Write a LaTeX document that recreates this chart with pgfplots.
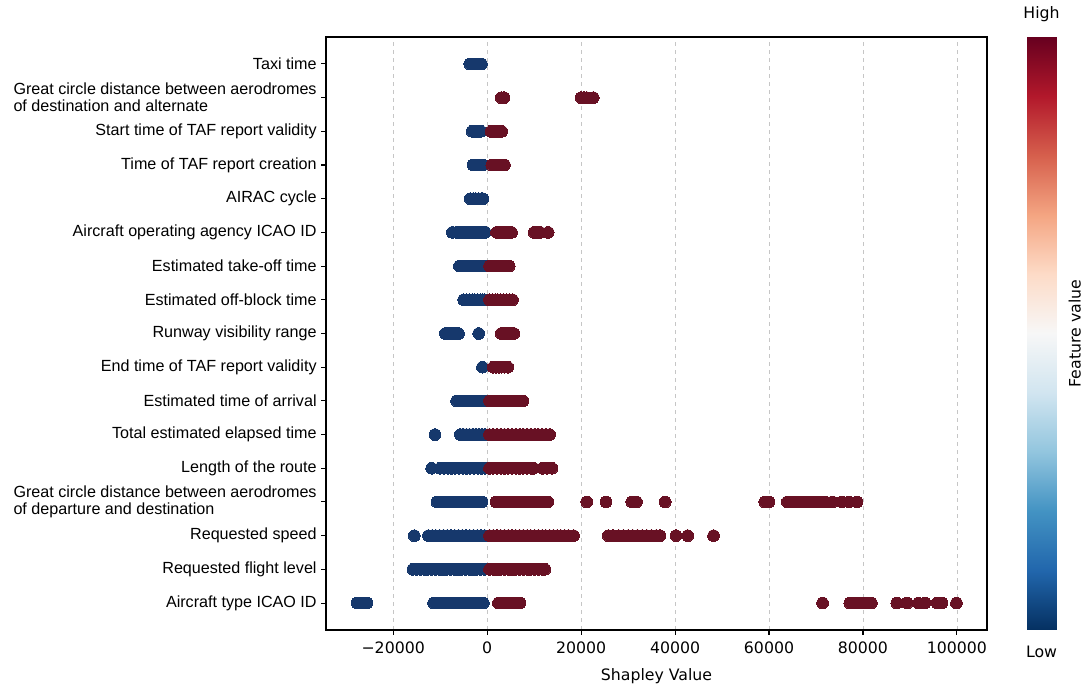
\documentclass[border=0pt]{standalone}
\usepackage{fontspec}
\setmainfont{DejaVu Sans}
\newfontfamily\labfont{Liberation Sans}
\usepackage{pgfplots}
\pgfplotsset{compat=1.18}
\definecolor{cblue}{RGB}{22,56,108}
\definecolor{cred}{RGB}{104,17,36}
\pgfplotsset{
  bdot/.style={only marks, mark=*, mark size=4.4pt, mark options={fill=cblue, draw=cblue, line width=0pt}},
  rdot/.style={only marks, mark=*, mark size=4.4pt, mark options={fill=cred, draw=cred, line width=0pt}},
}
\begin{document}
\begin{tikzpicture}
\path[use as bounding box] (-244.5pt,-40.5pt) rectangle (572.25pt,472.5pt);
\begin{axis}[
  at={(0,0)}, anchor=south west, scale only axis,
  width=495.75pt, height=444.75pt,
  xmin=-34300, xmax=106400, ymin=-0.8, ymax=16.8,
  scaled x ticks=false,
  xtick={-20000,0,20000,40000,60000,80000,100000},
  xticklabels={−20000,0,20000,40000,60000,80000,100000},
  ytick={0,...,16},
  yticklabels={
    Aircraft type ICAO ID,
    Requested flight level,
    Requested speed,
    {Great circle distance between aerodromes\\of departure and destination},
    Length of the route,
    Total estimated elapsed time,
    Estimated time of arrival,
    End time of TAF report validity,
    Runway visibility range,
    Estimated off-block time,
    Estimated take-off time,
    Aircraft operating agency ICAO ID,
    AIRAC cycle,
    Time of TAF report creation,
    Start time of TAF report validity,
    {Great circle distance between aerodromes\\of destination and alternate},
    Taxi time},
  yticklabel style={font=\labfont\fontsize{12.1pt}{12.75pt}\selectfont, align=left},
  xticklabel style={font=\fontsize{11.8pt}{13pt}\selectfont, yshift=-2pt},
  xlabel={Shapley Value},
  xlabel style={font=\fontsize{11.8pt}{13pt}\selectfont, yshift=-4pt},
  tick align=outside, tick pos=left,
  major tick length=3.5pt,
  tick style={black, line width=0.8pt},
  axis line style={black, line width=1pt},
  xmajorgrids, grid style={dashed, gray!45, line width=0.6pt},
  clip=false,
]
% Row 16 Taxi time
\addplot[bdot] coordinates {(-3700,16) (-3200,16) (-2600,16) (-2000,16) (-1500,16) (-1200,16)};
% Row 15 GCD destination-alternate
\addplot[rdot] coordinates {(3000,15) (3600,15) (20000,15) (20600,15) (21200,15) (22600,15)};
% Row 14 Start time TAF validity
\addplot[bdot] coordinates {(-3200,14) (-2700,14) (-2200,14) (-1700,14) (-1300,14)};
\addplot[rdot] coordinates {(800,14) (1400,14) (2000,14) (2600,14) (3100,14)};
% Row 13 Time of TAF creation
\addplot[bdot] coordinates {(-3000,13) (-2500,13) (-2000,13) (-1500,13) (-900,13)};
\addplot[rdot] coordinates {(1000,13) (1600,13) (2200,13) (2800,13) (3300,13) (3700,13)};
% Row 12 AIRAC cycle
\addplot[bdot] coordinates {(-3600,12) (-3000,12) (-2400,12) (-1800,12) (-1200,12) (-900,12)};
% Row 11 Aircraft operating agency
\addplot[bdot] coordinates {(-7400,11) (-6500,11) (-5800,11) (-5200,11) (-4700,11) (-4200,11) (-3700,11) (-3200,11) (-2700,11) (-2200,11) (-1700,11) (-1200,11) (-700,11) (-400,11)};
\addplot[rdot] coordinates {(2000,11) (2600,11) (3300,11) (4000,11) (4600,11) (5200,11) (10000,11) (10600,11) (11300,11) (13000,11)};
% Row 10 Estimated take-off time
\addplot[bdot] coordinates {(-5900,10) (-5300,10) (-4700,10) (-4100,10) (-3500,10) (-2900,10) (-2300,10) (-1700,10) (-1100,10) (-500,10)};
\addplot[rdot] coordinates {(500,10) (1100,10) (1700,10) (2300,10) (2900,10) (3500,10) (4100,10) (4700,10)};
% Row 9 Estimated off-block time
\addplot[bdot] coordinates {(-5000,9) (-4400,9) (-3800,9) (-3200,9) (-2600,9) (-2000,9) (-1400,9) (-900,9) (-500,9)};
\addplot[rdot] coordinates {(500,9) (1100,9) (1700,9) (2300,9) (2900,9) (3500,9) (4100,9) (4700,9) (5400,9)};
% Row 8 Runway visibility range
\addplot[bdot] coordinates {(-8900,8) (-8300,8) (-7700,8) (-7100,8) (-6500,8) (-6100,8) (-1800,8)};
\addplot[rdot] coordinates {(3000,8) (3600,8) (4200,8) (4800,8) (5400,8) (5700,8)};
% Row 7 End time of TAF validity
\addplot[bdot] coordinates {(-1000,7)};
\addplot[rdot] coordinates {(1300,7) (1900,7) (2500,7) (3100,7) (3700,7) (4400,7)};
% Row 6 Estimated time of arrival
\addplot[bdot] coordinates {(-6500,6) (-5900,6) (-5300,6) (-4700,6) (-4100,6) (-3500,6) (-2900,6) (-2300,6) (-1700,6) (-1100,6) (-500,6)};
\addplot[rdot] coordinates {(500,6) (1200,6) (1900,6) (2600,6) (3300,6) (4000,6) (4700,6) (5400,6) (6300,6) (7600,6)};
% Row 5 Total estimated elapsed time
\addplot[bdot] coordinates {(-11100,5) (-5700,5) (-5050,5) (-4400,5) (-3750,5) (-3100,5) (-2450,5) (-1800,5) (-1150,5) (-500,5)};
\addplot[rdot] coordinates {(500,5) (1300,5) (2100,5) (2900,5) (3700,5) (4500,5) (5300,5) (6100,5) (6900,5) (7700,5) (8500,5) (9300,5) (10100,5) (10900,5) (11700,5) (12500,5) (13300,5)};
% Row 4 Length of the route
\addplot[bdot] coordinates {(-11800,4) (-10000,4) (-9200,4) (-8400,4) (-7600,4) (-6800,4) (-6000,4) (-5200,4) (-4400,4) (-3600,4) (-2800,4) (-2000,4) (-1200,4) (-500,4)};
\addplot[rdot] coordinates {(500,4) (1300,4) (2100,4) (2900,4) (3700,4) (4500,4) (5300,4) (6100,4) (6900,4) (7700,4) (8500,4) (9300,4) (9900,4) (11800,4) (12800,4) (13800,4)};
% Row 3 GCD departure-destination
\addplot[bdot] coordinates {(-10700,3) (-9900,3) (-9100,3) (-8300,3) (-7500,3) (-6700,3) (-5900,3) (-5100,3) (-4300,3) (-3500,3) (-2700,3) (-1900,3) (-1100,3)};
\addplot[rdot] coordinates {(1900,3) (2700,3) (3500,3) (4300,3) (5100,3) (5900,3) (6700,3) (7500,3) (8300,3) (9100,3) (9900,3) (10700,3) (11500,3) (12200,3) (12900,3) (21200,3) (25300,3) (30800,3) (31800,3) (37900,3) (59100,3) (60000,3) (63900,3) (64700,3) (65500,3) (66300,3) (67100,3) (67900,3) (68700,3) (69500,3) (70300,3) (71100,3) (72000,3) (73500,3) (75500,3) (77000,3) (78700,3)};
% Row 2 Requested speed
\addplot[bdot] coordinates {(-15500,2) (-12500,2) (-11700,2) (-10900,2) (-10100,2) (-9300,2) (-8500,2) (-7700,2) (-6900,2) (-6100,2) (-5300,2) (-4500,2) (-3700,2) (-2900,2) (-2100,2) (-1300,2) (-500,2)};
\addplot[rdot] coordinates {(500,2) (1300,2) (2100,2) (2900,2) (3700,2) (4500,2) (5300,2) (6100,2) (6900,2) (7700,2) (8500,2) (9300,2) (10100,2) (10900,2) (11700,2) (12500,2) (13300,2) (14100,2) (14900,2) (15700,2) (16500,2) (17300,2) (18400,2) (25800,2) (26800,2) (28000,2) (29000,2) (30000,2) (31000,2) (32000,2) (33000,2) (34000,2) (35000,2) (36000,2) (36800,2) (40200,2) (42700,2) (48200,2)};
% Row 1 Requested flight level
\addplot[bdot] coordinates {(-15800,1) (-15000,1) (-14200,1) (-13400,1) (-12600,1) (-11800,1) (-11000,1) (-10200,1) (-9400,1) (-8600,1) (-7800,1) (-7000,1) (-6200,1) (-5400,1) (-4600,1) (-3800,1) (-3000,1) (-2200,1) (-1400,1) (-500,1)};
\addplot[rdot] coordinates {(500,1) (1300,1) (2100,1) (2900,1) (3700,1) (4500,1) (5300,1) (6100,1) (6900,1) (7700,1) (8500,1) (9300,1) (10100,1) (10900,1) (11700,1) (12300,1)};
% Row 0 Aircraft type ICAO ID
\addplot[bdot] coordinates {(-27700,0) (-27000,0) (-26300,0) (-25600,0) (-11400,0) (-10600,0) (-9800,0) (-9000,0) (-8200,0) (-7400,0) (-6600,0) (-5800,0) (-5000,0) (-4200,0) (-3400,0) (-2600,0) (-1800,0) (-800,0)};
\addplot[rdot] coordinates {(2400,0) (3200,0) (4000,0) (4800,0) (5600,0) (6300,0) (7000,0) (71400,0) (77200,0) (78000,0) (78800,0) (79600,0) (80400,0) (81100,0) (81800,0) (87200,0) (89400,0) (91800,0) (93200,0) (95800,0) (96800,0) (99900,0)};
\end{axis}
% colour bar as its own axis
\begin{axis}[
  name=cb,
  at={(525.75pt,0)}, anchor=south west, scale only axis,
  width=21.75pt, height=444.75pt,
  xmin=0, xmax=1, ymin=0, ymax=1,
  axis lines=none, ticks=none, clip=false,
  colormap={rdbur}{rgb255=(5,48,97) rgb255=(33,102,172) rgb255=(67,147,195) rgb255=(146,197,222) rgb255=(209,229,240) rgb255=(247,247,247) rgb255=(253,219,199) rgb255=(244,165,130) rgb255=(214,96,77) rgb255=(178,24,43) rgb255=(103,0,31)},
  point meta min=0, point meta max=1,
]
\addplot[surf, shader=interp, point meta=y] coordinates {
(0,0) (1,0)

(0,0.1) (1,0.1)

(0,0.2) (1,0.2)

(0,0.3) (1,0.3)

(0,0.4) (1,0.4)

(0,0.5) (1,0.5)

(0,0.6) (1,0.6)

(0,0.7) (1,0.7)

(0,0.8) (1,0.8)

(0,0.9) (1,0.9)

(0,1) (1,1)
};
\end{axis}
\node[font=\fontsize{11.8pt}{13pt}\selectfont] at ([yshift=17pt]cb.north) {High};
\node[font=\fontsize{11.8pt}{13pt}\selectfont] at ([yshift=-16.5pt]cb.south) {Low};
\node[font=\fontsize{11.8pt}{13pt}\selectfont, rotate=90] at ([xshift=14pt]cb.east) {Feature value};
\end{tikzpicture}
\end{document}
